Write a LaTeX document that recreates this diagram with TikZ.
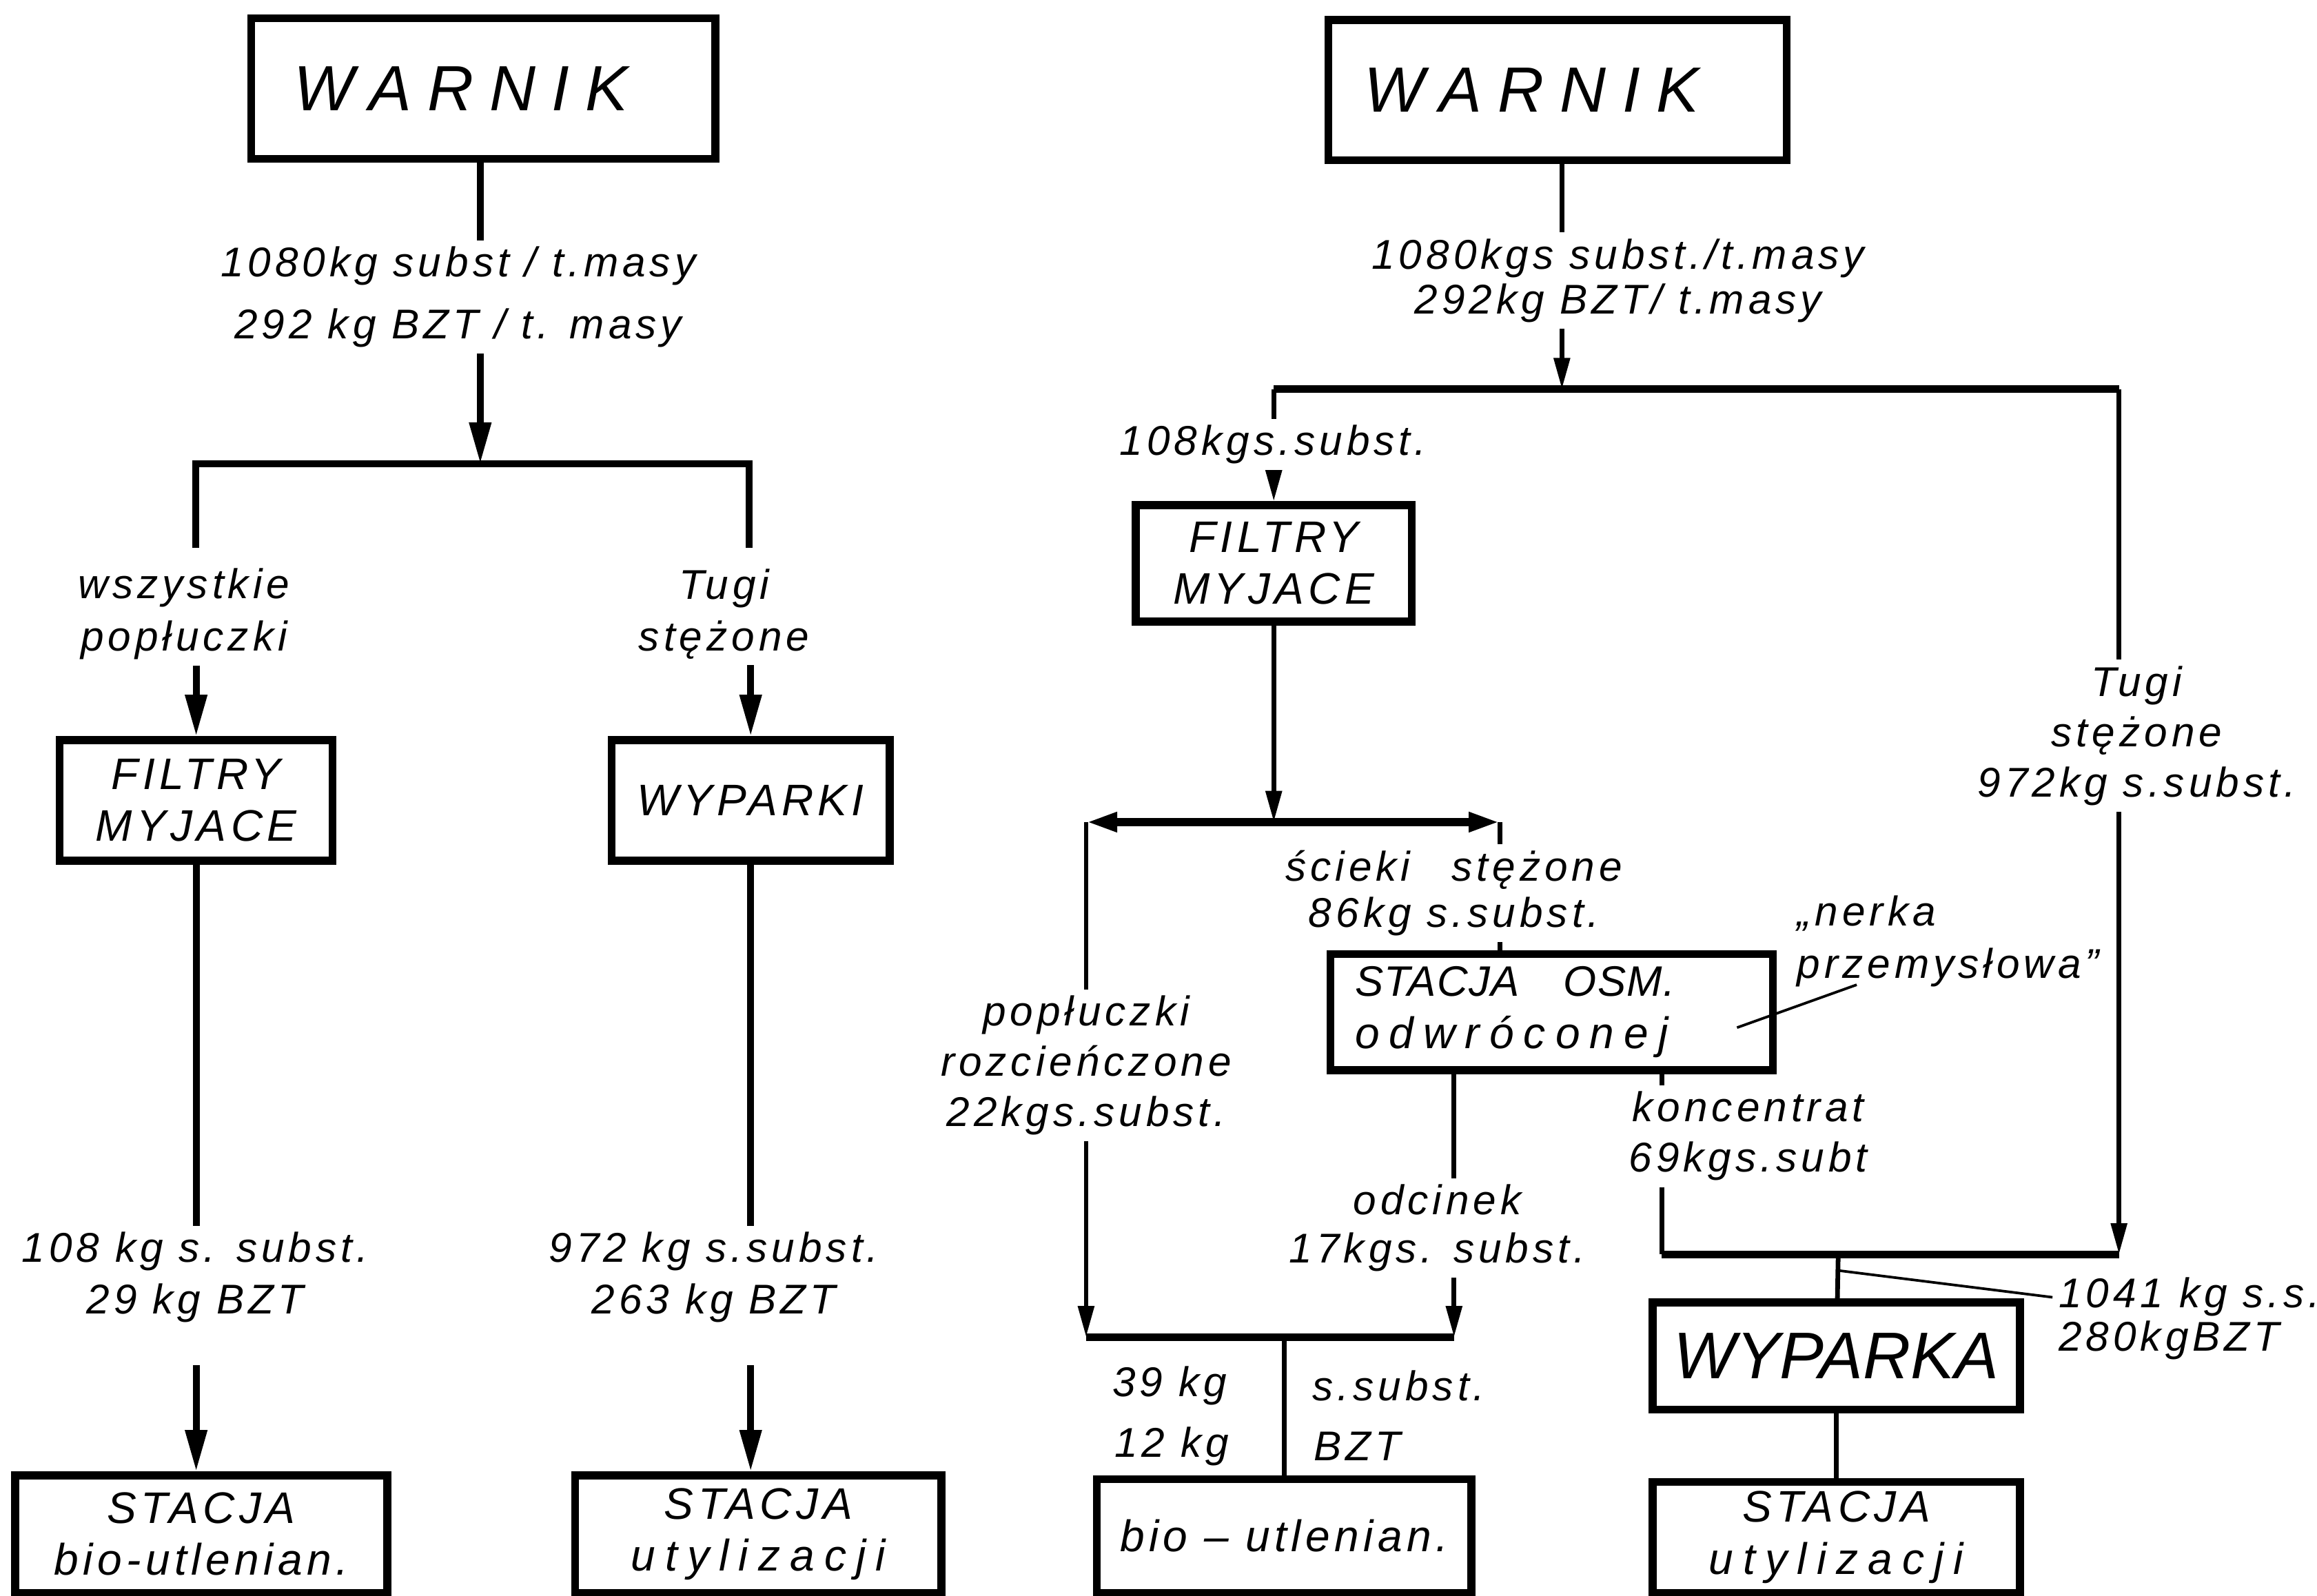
\documentclass[tikz,border=0pt]{standalone}
\usepackage{fontspec}
\setmainfont{Liberation Sans}[LetterSpace=10]
\usepackage{tikz}
\usetikzlibrary{arrows.meta, positioning}
\tikzset{
    block/.style={
        rectangle, draw=black, line width=1.5pt, inner sep=1pt,
        align=center, font=\itshape\fontsize{8.5}{10}\selectfont
    },
    flowtext/.style={
        inner sep=1pt, align=center, font=\itshape\fontsize{8}{10}\selectfont
    },
    pipe/.style={line width=1.3pt},
    arrow/.style={line width=1.3pt, -{Triangle[length=8pt, width=4pt]}},
    pipeR/.style={line width=0.9pt},
    bar/.style={line width=1.5pt},
    arrowR/.style={line width=0.9pt, -{Triangle[length=6pt, width=3pt]}},
    leader/.style={line width=0.5pt}
}
\newcommand{\wideletters}[1]{{\addfontfeature{LetterSpace=22}#1}}

\begin{document}
\begin{tikzpicture}[x=0.01cm, y=-0.01cm]
    \useasboundingbox (0,0) rectangle (1568,1080);

    \node (warnikL) [block, minimum width=3.14cm, minimum height=0.95cm] at (327,60) {\fontsize{12.3}{14}\selectfont\addfontfeature{LetterSpace=25}WARNIK\hspace{0.3cm}};
    \node (masaL) [flowtext, font=\itshape\fontsize{8}{12}\selectfont] at (310,201) {1080kg subst / t.masy\\292 kg BZT / t. masy};
    \node (wszL) [flowtext] at (124.5,415.5) {wszystkie\\popłuczki};
    \node (tugiL) [flowtext] at (490,415.5) {Tugi\\stężone};
    \node (filtryL) [block, minimum width=1.845cm, minimum height=0.815cm] at (132.75,541.75) {FILTRY\\MYJACE};
    \node (wyparkiL) [block, minimum width=1.88cm, minimum height=0.815cm] at (508,541.75) {WYPARKI};
    \node (subL1) [flowtext] at (132,864.5) {108 kg s. subst.\\29 kg BZT};
    \node (subL2) [flowtext] at (483,864.5) {972 kg s.subst.\\263 kg BZT};
    \node (bioL) [block, minimum width=2.516cm, minimum height=0.794cm] at (136.2,1038.3) {STACJA\\bio-utlenian.};
    \node (utylL) [block, minimum width=2.476cm, minimum height=0.794cm] at (513.2,1038.3) {STACJA\\\wideletters{utylizacji}};

    \coordinate (splitL) at (325,314);
    \coordinate (dropL1) at (132.5,371);
    \coordinate (dropL2) at (507,371);

    \draw [pipe] (warnikL.south -| splitL) -- (masaL.north -| splitL);
    \draw [arrow] (masaL.south -| splitL) -- (splitL);
    \draw [pipe] (dropL1) -- (dropL1 |- splitL) -- (dropL2 |- splitL) -- (dropL2);
    \draw [arrow] (wszL.south -| filtryL.north) -- (filtryL.north);
    \draw [arrow] (tugiL.south -| wyparkiL.north) -- (wyparkiL.north);
    \draw [pipe] (filtryL.south) -- (subL1.north -| filtryL.south);
    \draw [arrow, shorten <=7pt] (subL1.south -| filtryL.south) -- (filtryL.south |- bioL.north);
    \draw [pipe] (wyparkiL.south) -- (subL2.north -| wyparkiL.south);
    \draw [arrow, shorten <=7pt] (subL2.south -| wyparkiL.south) -- (wyparkiL.south |- utylL.north);

    \node (warnikR) [block, minimum width=3.10cm, minimum height=0.95cm] at (1054,61) {\fontsize{12.3}{14}\selectfont\addfontfeature{LetterSpace=25}WARNIK\hspace{0.35cm}};
    \node (masaR) [flowtext, font=\itshape\fontsize{8}{8.7}\selectfont] at (1095,190) {1080kgs subst./t.masy\\292kg BZT/ t.masy};
    \node (sub108) [flowtext] at (861.5,301) {108kgs.subst.};
    \node (filtryR) [block, minimum width=1.867cm, minimum height=0.787cm] at (862,381.3) {FILTRY\\MYJACE};
    \node (tugiR) [flowtext, font=\itshape\fontsize{8}{9.7}\selectfont] at (1446,498) {Tugi\\stężone\\972kg s.subst.};
    \node (popR) [flowtext, font=\itshape\fontsize{8}{9.7}\selectfont] at (735,721) {popłuczki\\rozcieńczone\\22kgs.subst.};
    \node (sciekiR) [flowtext, font=\itshape\fontsize{8}{8.8}\selectfont] at (984,604.5) {ścieki\quad stężone\\86kg s.subst.};
    \node (osm) [block, minimum width=2.994cm, minimum height=0.785cm, text width=2.66cm, align=left] at (1050,685) {{\itshape\fontsize{8.2}{10}\selectfont\addfontfeature{LetterSpace=2}STACJA\hspace{0.3cm}OSM.}\\\wideletters{odwróconej}};
    \node (nerka) [flowtext, anchor=west, align=left] at (1212,637) {„nerka\\przemysłowa”};
    \node (konc) [flowtext, font=\itshape\fontsize{8}{9.7}\selectfont] at (1183,769) {koncentrat\\69kgs.subt};
    \node (odcinek) [flowtext, font=\itshape\fontsize{8}{9.3}\selectfont] at (972.7,831) {odcinek\\17kgs. subst.};
    \node (kg39) [flowtext] at (791.5,937.7) {39 kg};
    \node (ssubst) [flowtext] at (946.6,937.7) {s.subst.};
    \node (kg12) [flowtext] at (793,979) {12 kg};
    \node (bzt) [flowtext] at (918.5,979) {BZT};
    \node (bioR) [block, minimum width=2.532cm, minimum height=0.77cm] at (869,1039.5) {bio – utlenian.};
    \node (wyparka) [block, minimum width=2.485cm, minimum height=0.725cm, font=\itshape\fontsize{12.7}{14}\selectfont\addfontfeature{LetterSpace=0}] at (1242.7,917.7) {WYPARKA};
    \node (sum1041) [flowtext, anchor=west, align=left, font=\itshape\fontsize{8}{8.3}\selectfont] at (1389,892.5) {1041 kg s.s.\\280kgBZT};
    \node (utylR) [block, minimum width=2.485cm, minimum height=0.75cm] at (1242.7,1040.5) {STACJA\\\wideletters{utylizacji}};

    \coordinate (splitR) at (1057,263.4);
    \coordinate (lugR) at (1434,263.4);
    \coordinate (splitM) at (862,556.4);
    \coordinate (sciekiC) at (1015,556.4);
    \coordinate (joinB) at (869,905);
    \coordinate (odcJoin) at (984,905);
    \coordinate (koncC) at (1124.6,849);
    \coordinate (joinW) at (1244,849);
    \coordinate (nerkaPt) at (1175.5,695.5);
    \coordinate (sumPt) at (1245,860);
    \coordinate (sumTip) at (1389,878);

    \draw [pipeR] (warnikR.south -| splitR) -- (masaR.north -| splitR);
    \draw [arrowR] (masaR.south -| splitR) -- (splitR);
    \draw [bar] (filtryR.north |- splitR) -- (lugR);
    \draw [pipeR] (filtryR.north |- splitR) -- (sub108.north -| filtryR.north);
    \draw [arrowR] (sub108.south -| filtryR.north) -- (filtryR.north);
    \draw [pipeR] (lugR) -- (lugR |- tugiR.north);
    \draw [arrowR] (tugiR.south -| lugR) -- (lugR |- koncC);
    \draw [arrowR] (filtryR) -- (splitM);
    \draw [bar, {Triangle[length=6pt, width=3.5pt]}-{Triangle[length=6pt, width=3.5pt]}] (popR.north |- splitM) -- (sciekiC);
    \draw [pipeR] (popR.north |- splitM) -- (popR.north);
    \draw [pipeR] (sciekiC) -- (sciekiR.north -| sciekiC);
    \draw [pipeR] (sciekiR.south -| sciekiC) -- (osm.north -| sciekiC);
    \draw [arrowR] (popR.south) -- (popR.south |- joinB);
    \draw [pipeR] (osm.south -| odcJoin) -- (odcinek.north -| odcJoin);
    \draw [arrowR] (odcinek.south -| odcJoin) -- (odcJoin);
    \draw [bar] (popR.south |- joinB) -- (odcJoin);
    \draw [pipeR] (joinB) -- (bioR);
    \draw [pipeR] (osm.south -| koncC) -- (konc.north -| koncC);
    \draw [pipeR] (konc.south -| koncC) -- (koncC);
    \draw [bar] (koncC) -- (lugR |- koncC);
    \draw [pipeR] (joinW) -- (wyparka);
    \draw [pipeR] (wyparka) -- (utylR);
    \draw [leader] (nerkaPt) -- ++(81,-29);
    \draw [leader] (sumPt) -- (sumTip);
\end{tikzpicture}
\end{document}
